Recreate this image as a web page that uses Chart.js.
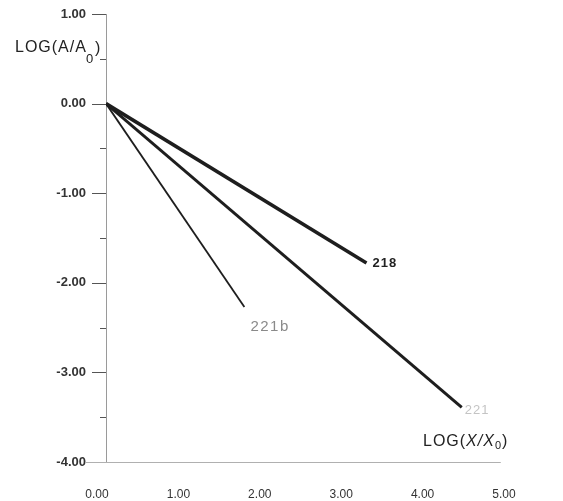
<!DOCTYPE html>
<html>
<head>
<meta charset="utf-8">
<script src="https://cdn.jsdelivr.net/npm/chart.js@4/dist/chart.umd.min.js"></script>
<style>
  html, body { margin: 0; padding: 0; background: #fff; }
  #wrap { width: 563px; height: 501px; }
</style>
</head>
<body>
<div id="wrap"><canvas id="myChart"></canvas></div>
<script>
// line data
const seriesNames = ['218', '221', '221b'];
const x218 = [0, 3.2];
const y218 = [0, -1.78];
const x221 = [0, 4.37];
const y221 = [0, -3.39];
const x221b = [0, 1.7];
const y221b = [0, -2.27];

const xTicks = [0, 1, 2, 3, 4, 5];
const yTicks = [1, 0, -1, -2, -3, -4];

function pts(xs, ys) {
    return xs.map((x, i) => ({ x: x, y: ys[i] }));
}

// axis lines, minor ticks, titles and line labels
const decor = {
    id: 'decor',
    beforeDatasetsDraw(chart) {
        const ctx = chart.ctx;
        const xs = chart.scales.x, ys = chart.scales.y;
        const left = chart.chartArea.left;
        ctx.save();
        ctx.strokeStyle = '#9a9a9a';
        ctx.lineWidth = 1;
        ctx.beginPath();
        ctx.moveTo(left + 0.5, ys.getPixelForValue(1));
        ctx.lineTo(left + 0.5, ys.getPixelForValue(-4));
        ctx.stroke();
        // bottom line
        ctx.strokeStyle = '#b0b0b0';
        ctx.beginPath();
        ctx.moveTo(left - 21, ys.getPixelForValue(-4) + 0.5);
        ctx.lineTo(xs.getPixelForValue(4.85), ys.getPixelForValue(-4) + 0.5);
        ctx.stroke();
        // ticks
        ctx.strokeStyle = '#555';
        for (let v = 1; v >= -4; v -= 0.5) {
            const py = Math.round(ys.getPixelForValue(v)) + 0.5;
            const major = Number.isInteger(v);
            if (v === -4) continue;
            ctx.beginPath();
            ctx.moveTo(left - (major ? 14 : 6), py);
            ctx.lineTo(left, py);
            ctx.stroke();
        }
        ctx.restore();
    },
    afterDatasetsDraw(chart) {
        const ctx = chart.ctx;
        ctx.save();
        ctx.textBaseline = 'middle';
        ctx.textAlign = 'left';
        // y title
        ctx.fillStyle = '#222';
        ctx.font = '16px "Liberation Sans", Arial, sans-serif';
        ctx.letterSpacing = '1px';
        ctx.fillText('LOG(A/A', 15, 48);
        ctx.font = '13px "Liberation Sans", Arial, sans-serif';
        ctx.fillText('0', 86, 59);
        ctx.font = '16px "Liberation Sans", Arial, sans-serif';
        ctx.fillText(')', 95, 49);
        // x title
        let x = 423;
        ctx.font = '16px "Liberation Sans", Arial, sans-serif';
        ctx.fillText('LOG(', x, 442); x += ctx.measureText('LOG(').width;
        ctx.font = 'italic 16px "Liberation Sans", Arial, sans-serif';
        ctx.fillText('X/X', x, 442); x += ctx.measureText('X/X').width;
        ctx.font = '11px "Liberation Sans", Arial, sans-serif';
        ctx.fillText('0', x, 446); x += ctx.measureText('0').width;
        ctx.font = '16px "Liberation Sans", Arial, sans-serif';
        ctx.fillText(')', x, 442);
        // line end labels
        const styles = [
            { font: 'bold 13px "Liberation Sans", Arial, sans-serif', color: '#222', dx: 6, dy: 0, sp: '1px' },
            { font: '13px "Liberation Sans", Arial, sans-serif', color: '#c4c4c4', dx: 3, dy: 3, sp: '1px' },
            { font: '15px "Liberation Sans", Arial, sans-serif', color: '#8a8a8a', dx: 6, dy: 20, sp: '1.5px' }
        ];
        chart.data.datasets.forEach((ds, i) => {
            const meta = chart.getDatasetMeta(i);
            const p = meta.data[meta.data.length - 1];
            const s = styles[i];
            ctx.font = s.font;
            ctx.fillStyle = s.color;
            ctx.letterSpacing = s.sp;
            ctx.fillText(seriesNames[i], p.x + s.dx, p.y + s.dy);
        });
        ctx.restore();
    }
};

const ctx = document.getElementById('myChart').getContext('2d');
const myChart = new Chart(ctx, {
    type: 'scatter',
    data: {
        datasets: [{
            label: seriesNames[0],
            data: pts(x218, y218),
            showLine: true,
            borderColor: '#1e1e1e',
            borderWidth: 3.5,
            pointRadius: 0
        }, {
            label: seriesNames[1],
            data: pts(x221, y221),
            showLine: true,
            borderColor: '#1e1e1e',
            borderWidth: 3,
            pointRadius: 0
        }, {
            label: seriesNames[2],
            data: pts(x221b, y221b),
            showLine: true,
            borderColor: '#1e1e1e',
            borderWidth: 1.8,
            pointRadius: 0
        }]
    },
    options: {
        responsive: true,
        maintainAspectRatio: false,
        animation: false,
        layout: { padding: { top: 14, right: 50, left: 0, bottom: 0 } },
        plugins: { legend: { display: false }, tooltip: { enabled: false } },
        scales: {
            x: {
                type: 'linear',
                min: 0,
                max: 5,
                afterFit(scale) {
                    scale.height = 39;
                    scale.paddingLeft = 0;
                    scale.paddingRight = 0;
                },
                afterBuildTicks(scale) { scale.ticks = xTicks.map(v => ({ value: v })); },
                border: { display: false },
                grid: { display: false },
                ticks: {
                    labelOffset: -9,
                    padding: 17,
                    color: '#333',
                    font: { family: '"Liberation Sans", Arial, sans-serif', size: 12 },
                    callback: v => v.toFixed(2)
                }
            },
            y: {
                type: 'linear',
                min: -4,
                max: 1,
                afterFit(scale) {
                    scale.width = 106;
                    scale.paddingTop = 0;
                    scale.paddingBottom = 0;
                },
                afterBuildTicks(scale) { scale.ticks = yTicks.map(v => ({ value: v })); },
                border: { display: false },
                grid: { display: false },
                ticks: {
                    padding: 12,
                    color: '#333',
                    font: { family: '"Liberation Sans", Arial, sans-serif', size: 13, weight: 'bold' },
                    callback: v => v.toFixed(2)
                }
            }
        }
    },
    plugins: [decor]
});
</script>
</body>
</html>
